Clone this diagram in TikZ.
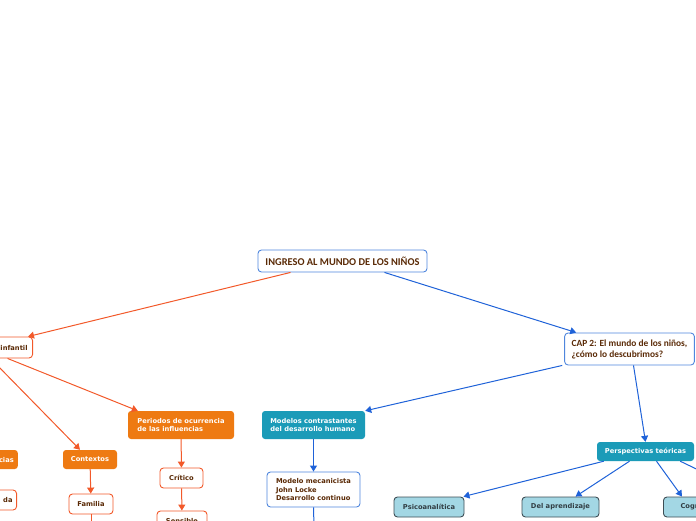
\documentclass[tikz,border=0pt]{standalone}
\usepackage{fontspec}
\setmainfont{DejaVu Sans}
\newfontfamily\capfont{Carlito}
\usetikzlibrary{arrows.meta, positioning}
\definecolor{topicblue}{HTML}{4F86DD}
\definecolor{blueline}{HTML}{1F62D8}
\definecolor{orangeline}{HTML}{F2592A}
\definecolor{orangefill}{HTML}{EE7A12}
\definecolor{tealfill}{HTML}{1B9BB8}
\definecolor{theoryfill}{HTML}{A3D7E4}
\definecolor{theoryline}{HTML}{3E4E55}
\definecolor{txtbrown}{HTML}{5A2A06}

\begin{document}
\begin{tikzpicture}[
  x=1pt, y=-1pt,
  font=\fontsize{6.7}{8.5}\selectfont\bfseries,
  topic/.style={draw=topicblue, fill=white, rounded corners=3.5pt, line width=0.9pt,
                text=txtbrown, align=left, inner xsep=7pt,
                font=\capfont\fontsize{9.4}{11}\selectfont\bfseries},
  orangebox/.style={fill=orangefill, text=white, rounded corners=3pt, align=left,
                    inner xsep=6pt},
  orangeleaf/.style={draw=orangeline, fill=white, text=txtbrown, rounded corners=3.5pt,
                     line width=0.9pt},
  tealbox/.style={fill=tealfill, text=white, rounded corners=3pt, align=left,
                  inner xsep=6pt},
  blueleaf/.style={draw=topicblue, fill=white, text=txtbrown, rounded corners=3.5pt,
                   line width=0.9pt, align=left},
  theory/.style={draw=theoryline, fill=theoryfill, text=theoryline!80!black,
                 rounded corners=3.5pt, line width=0.9pt},
  orangearrow/.style={-{Triangle[length=6pt, width=7pt]}, orangeline, line width=1pt},
  bluearrow/.style={-{Triangle[length=6pt, width=7pt]}, blueline, line width=1pt}
]
\useasboundingbox (0,0) rectangle (696,520);

\node[topic, minimum width=169, minimum height=22,
      font=\capfont\fontsize{10.4}{12}\selectfont\bfseries] (root) at (342.5,261) {INGRESO AL MUNDO DE LOS NIÑOS};
\node[topic, minimum width=129, minimum height=32] (cap) at (629.5,349) {CAP 2: El mundo de los niños,\\¿cómo lo descubrimos?};

%% left branch
\node[orangeleaf, text width=50, align=right, minimum height=21, inner xsep=5pt,
      anchor=east] (infantil) at (33,347.5) {infantil};
\node[orangebox, text width=40, align=right, minimum height=19, inner xsep=4pt,
      anchor=east] (influencias) at (18,459.5) {cias};
\node[orangeleaf, text width=40, align=right, minimum height=20, inner xsep=4pt,
      anchor=east] (edad) at (17,500) {da};
\node[orangebox, minimum width=54, minimum height=19] (contextos) at (90,459.5) {Contextos};
\node[orangeleaf, minimum width=44, minimum height=20] (familia) at (91,504) {Familia};
\node[orangebox, minimum width=106, minimum height=28] (periodos) at (181,425) {Periodos de ocurrencia\\de las influencias};
\node[orangeleaf, minimum width=43, minimum height=20] (critico) at (181.5,478) {Crítico};
\node[orangeleaf, minimum width=50, minimum height=20] (sensible) at (182,521) {Sensible};
\coordinate (famchild) at (91,545);

%% right branch
\node[tealbox, minimum width=103, minimum height=28] (modelos) at (313.5,425) {Modelos contrastantes\\del desarrollo humano};
\node[blueleaf, minimum width=93, minimum height=35, inner xsep=7pt] (mecanicista) at (313.5,489.5) {Modelo mecanicista\\John Locke\\Desarrollo continuo};
\coordinate (mecchild) at (314,545);
\node[tealbox, minimum width=97, minimum height=19] (perspectivas) at (645.5,451.5) {Perspectivas teóricas};
\node[theory, minimum width=70, minimum height=20] (psico) at (429,507) {Psicoanalítica};
\node[theory, minimum width=77, minimum height=20] (aprendizaje) at (560.5,507) {Del aprendizaje};
\node[theory, minimum width=70, minimum height=20, anchor=west] (cognitiva) at (663,507) {Cognitiva};
\coordinate (perschild) at (740,490);

\draw[orangearrow] ([xshift=-52pt]root.south) -- ([xshift=-5pt]infantil.north east);
\draw[bluearrow] ([xshift=42pt]root.south) -- ([xshift=12pt]cap.north west);

\draw[orangearrow] ([xshift=-12pt]infantil.south) -- ([xshift=-10pt]contextos.north);
\draw[orangearrow] ([xshift=5pt]infantil.south) -- ([xshift=10pt]periodos.north west);
\draw[orangearrow] (contextos) -- (familia);
\draw[orangearrow] (familia) -- (famchild);
\draw[orangearrow] (periodos) -- (critico);
\draw[orangearrow] (critico) -- (sensible);

\draw[bluearrow] ([xshift=-2pt]cap.south west) -- (modelos.north east);
\draw[bluearrow] (modelos) -- (mecanicista);
\draw[bluearrow] (mecanicista) -- (mecchild);
\draw[bluearrow] ([xshift=4pt]cap.south) -- (perspectivas.north);
\draw[bluearrow] ([xshift=7pt]perspectivas.south west) -- ([xshift=-1pt]psico.north east);
\draw[bluearrow] ([xshift=-16pt]perspectivas.south) -- ([xshift=15pt]aprendizaje.north);
\draw[bluearrow] ([xshift=11pt]perspectivas.south) -- ([xshift=19pt]cognitiva.north west);
\draw[bluearrow] ([xshift=-14pt]perspectivas.south east) -- (perschild);

\end{tikzpicture}
\end{document}
